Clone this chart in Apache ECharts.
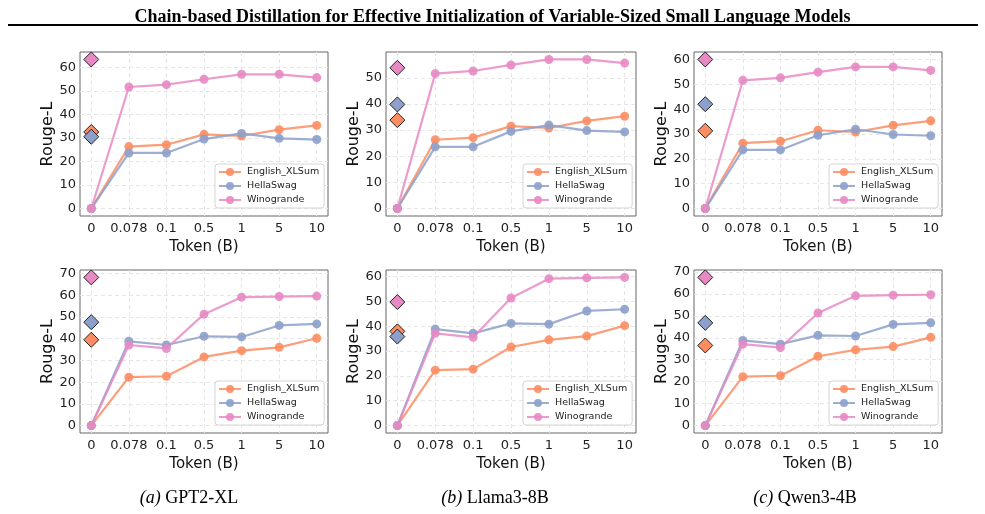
<!DOCTYPE html>
<html>
<head>
<meta charset="utf-8">
<title>Chain-based Distillation</title>
<script src="https://cdn.jsdelivr.net/npm/echarts@6/dist/echarts.min.js"></script>
<style>
  html, body { margin: 0; padding: 0; background: #fff; }
  #chart { width: 985px; height: 514px; }
</style>
</head>
<body>
<div id="chart"></div>
<script>
// x categories (Token, B)
const tokenLabels = ['0', '0.078', '0.1', '0.5', '1', '5', '10'];
const seriesNames = ['English_XLSum', 'HellaSwag', 'Winogrande'];
const modelNames = ['GPT2-XL', 'Llama3-8B', 'Qwen3-4B'];
const captionTags = ['(a)', '(b)', '(c)'];

// top row curves (same for the three models)
const xlsumTop = [0, 26.3, 27.1, 31.5, 30.8, 33.5, 35.3];
const hellaTop = [0, 23.6, 23.6, 29.5, 31.9, 29.8, 29.3];
const winoTop = [0, 51.6, 52.6, 54.9, 57.0, 57.0, 55.6];

// bottom row curves
const xlsumBottom = [0, 22.3, 22.7, 31.6, 34.5, 36.0, 40.2];
const hellaBottom = [0, 38.8, 37.1, 41.1, 40.8, 46.1, 46.8];
const winoBottom = [0, 37.1, 35.5, 51.3, 59.1, 59.4, 59.6];

// diamonds at x=0: [English_XLSum, HellaSwag, Winogrande]
const baseTop = [[32.5, 30.5, 63.3], [33.8, 39.8, 53.8], [31.3, 42.0, 60.0]];
const baseBottom = [[39.5, 47.6, 68.2], [37.9, 35.8, 49.7], [36.5, 46.8, 67.5]];

// y tick labels per panel
const yTicksTop = [
    [0, 10, 20, 30, 40, 50, 60],
    [0, 10, 20, 30, 40, 50],
    [0, 10, 20, 30, 40, 50, 60]
];
const yTicksBottom = [
    [0, 10, 20, 30, 40, 50, 60, 70],
    [0, 10, 20, 30, 40, 50, 60],
    [0, 10, 20, 30, 40, 50, 60, 70]
];

const colors = ['#fc8d62', '#8da0cb', '#e78ac3'];

// plot boxes (px)
const cols = [{ left: 80, width: 248 }, { left: 386, width: 250 }, { left: 694, width: 248 }];
const rows = [{ top: 52, height: 164 }, { top: 270, height: 163 }];
const captionX = [184, 490, 800];

const chart = echarts.init(document.getElementById('chart'));

const grids = [], xAxes = [], yAxes = [], legends = [], series = [];

function addPanel(idx, col, row, lines, base, yTicks) {
    const g = { left: cols[col].left, top: rows[row].top, width: cols[col].width, height: rows[row].height };
    grids.push({
        left: g.left, top: g.top, width: g.width, height: g.height,
        show: true, borderColor: '#666', borderWidth: 1, backgroundColor: '#fff'
    });

    const dmax = Math.max(...lines.flat(), ...base);
    const ticksIdx = tokenLabels.map((_, i) => i);

    xAxes.push({
        type: 'value', gridIndex: idx, min: -0.3, max: 6.3,
        axisLine: { show: false },
        axisTick: { show: false, customValues: ticksIdx },
        axisLabel: {
            customValues: ticksIdx, formatter: v => tokenLabels[Math.round(v)],
            fontSize: 13, color: '#222', fontFamily: 'DejaVu Sans', margin: 6
        },
        splitLine: { show: true, lineStyle: { color: '#e6e6e6', type: [4, 3], width: 1 } },
        name: 'Token (B)', nameLocation: 'middle', nameGap: 24,
        nameTextStyle: { fontSize: 15, color: '#111', fontFamily: 'DejaVu Sans' }
    });
    yAxes.push({
        type: 'value', gridIndex: idx, min: -0.05 * dmax, max: 1.05 * dmax,
        axisLine: { show: false },
        axisTick: { show: false, customValues: yTicks },
        axisLabel: {
            customValues: yTicks, fontSize: 13, color: '#222',
            fontFamily: 'DejaVu Sans', margin: 4
        },
        splitLine: { show: true, lineStyle: { color: '#e6e6e6', type: [4, 3], width: 1 } },
        name: 'Rouge-L', nameLocation: 'middle', nameGap: 23,
        nameTextStyle: { fontSize: 16, color: '#111', fontFamily: 'DejaVu Sans' }
    });

    legends.push({
        data: seriesNames, orient: 'vertical',
        left: g.left + g.width - 113, top: g.top + g.height - 52,
        itemWidth: 22, itemHeight: 10, itemGap: 4,
        padding: [3, 5, 3, 3],
        backgroundColor: '#fff', borderColor: '#d5d5d5', borderWidth: 1, borderRadius: 3,
        textStyle: { fontSize: 9.5, color: '#222', fontFamily: 'DejaVu Sans', padding: [0, 0, 0, 1] },
        selectedMode: false
    });

    lines.forEach((vals, k) => {
        series.push({
            name: seriesNames[k], type: 'line', xAxisIndex: idx, yAxisIndex: idx,
            data: vals.map((v, i) => [i, v]),
            symbol: 'circle', symbolSize: 9, z: 3,
            lineStyle: { color: colors[k], width: 2.2, opacity: 0.85 },
            itemStyle: { color: colors[k], opacity: 0.9 },
            emphasis: { disabled: true }, animation: false
        });
    });
    base.forEach((v, k) => {
        series.push({
            name: seriesNames[k] + ' base', type: 'scatter', xAxisIndex: idx, yAxisIndex: idx,
            data: [[0, v]], symbol: 'diamond', symbolSize: 15, z: 5,
            itemStyle: { color: colors[k], borderColor: '#222', borderWidth: 1, opacity: 1 },
            emphasis: { disabled: true }, animation: false
        });
    });
}

const topLines = [xlsumTop, hellaTop, winoTop];
const bottomLines = [xlsumBottom, hellaBottom, winoBottom];
for (let c = 0; c < 3; c++) addPanel(c, c, 0, topLines, baseTop[c], yTicksTop[c]);
for (let c = 0; c < 3; c++) addPanel(3 + c, c, 1, bottomLines, baseBottom[c], yTicksBottom[c]);

const titles = [{
    text: 'Chain-based Distillation for Effective Initialization of Variable-Sized Small Language Models',
    left: 'center', top: 3,
    textStyle: { fontFamily: 'Liberation Serif', fontWeight: 'bold', fontSize: 18, color: '#000' }
}];
modelNames.forEach((m, i) => {
    titles.push({
        text: '{i|' + captionTags[i] + '} ' + m,
        left: captionX[i], top: 484, textAlign: 'center',
        textStyle: {
            fontFamily: 'Liberation Serif', fontSize: 18, fontWeight: 'normal', color: '#000',
            rich: { i: { fontFamily: 'Liberation Serif', fontStyle: 'italic', fontSize: 18, color: '#000' } }
        }
    });
});

chart.setOption({
    animation: false,
    title: titles,
    grid: grids,
    xAxis: xAxes,
    yAxis: yAxes,
    legend: legends,
    series: series,
    graphic: [{
        type: 'line', shape: { x1: 8, y1: 25, x2: 978, y2: 25 },
        style: { stroke: '#000', lineWidth: 2 }, silent: true
    }]
});
</script>
</body>
</html>
